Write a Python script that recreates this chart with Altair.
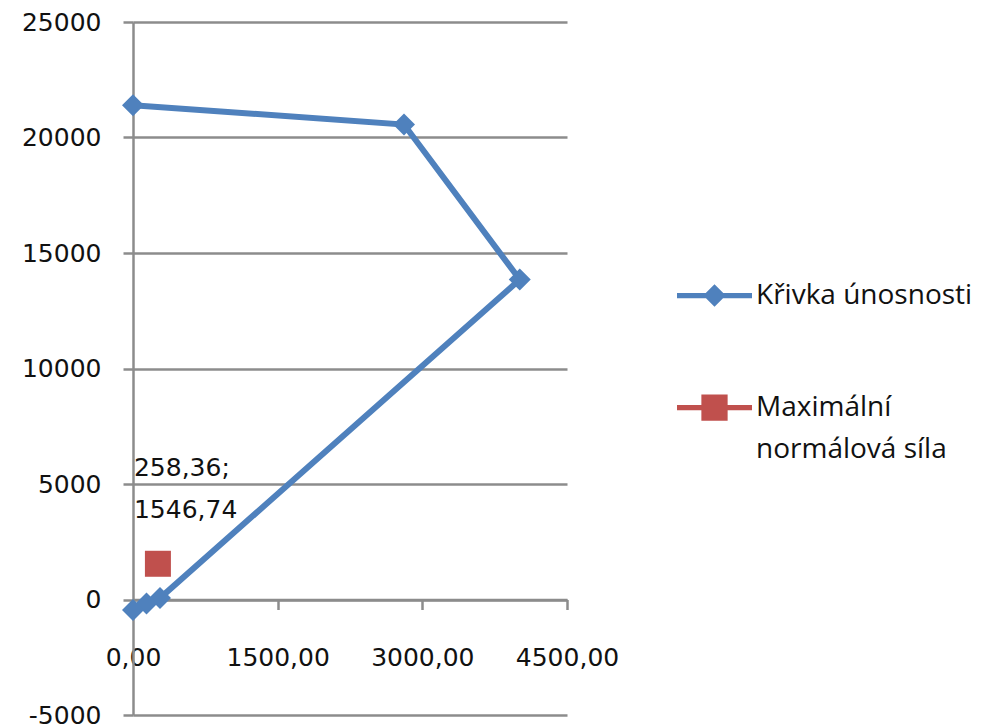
import altair as alt
import pandas as pd

# Interaction curve (moment M on x, axial force N on y)
curve_m = [0, 2810, 4010, 280, 140, 0]
curve_n = [21400, 20560, 13850, 60, -170, -450]

# Design load point
load_m = [258.36]
load_n = [1546.74]

SERIES = ["Křivka únosnosti", "Maximální\nnormálová síla"]
COLORS = ["#4F81BD", "#C0504D"]

X_TICKS = [0, 1500, 3000, 4500]
Y_TICKS = [-5000, 0, 5000, 10000, 15000, 20000, 25000]

TOTAL_W, TOTAL_H = 991, 728
LEFT, TOP = 133, 22
W, H = 434, 693
GRID = "#8C8C8C"
NUM_FONT = "DejaVu Sans"
LEG_FONT = "Open Sans"

curve = pd.DataFrame({"m": curve_m, "n": curve_n, "series": SERIES[0], "order": range(len(curve_m))})
load = pd.DataFrame({"m": load_m, "n": load_n, "series": SERIES[1]})

x_scale = alt.Scale(domain=[X_TICKS[0], X_TICKS[-1]], nice=False, zero=False)
y_scale = alt.Scale(domain=[Y_TICKS[0], Y_TICKS[-1]], nice=False, zero=False)

# x axis sits on the N = 0 line
x_offset = -H * (0 - Y_TICKS[0]) / (Y_TICKS[-1] - Y_TICKS[0])

x_axis = alt.Axis(
    values=X_TICKS, title=None, grid=False, orient="bottom", offset=x_offset,
    labelExpr="replace(format(datum.value, '.2f'), '.', ',')",
    labelFont=NUM_FONT, labelFontSize=25, labelColor="#111111", labelPadding=36,
    domainColor=GRID, domainWidth=2.5, tickColor=GRID, tickWidth=2.5, tickSize=10,
    labelFlush=False, labelOverlap=False,
)
y_axis = alt.Axis(
    values=Y_TICKS, title=None,
    labelExpr="'' + datum.value",
    labelFont=NUM_FONT, labelFontSize=25, labelColor="#111111", labelPadding=22,
    domainColor=GRID, domainWidth=2.5, tickColor=GRID, tickWidth=2.5, tickSize=10,
    gridColor=GRID, gridWidth=2.5,
)

x_enc = alt.X("m:Q", scale=x_scale, axis=x_axis)
y_enc = alt.Y("n:Q", scale=y_scale, axis=y_axis)
x_plain = alt.X("m:Q", scale=x_scale)
y_plain = alt.Y("n:Q", scale=y_scale)

# Legend glyphs: a line segment with the series marker on it
blue_glyph = ("M-1,-0.07L1,-0.07L1,0.07L-1,0.07Z "
              "M0,-0.3L0.3,0L0,0.3L-0.3,0Z")
red_glyph = ("M-1,-0.07L1,-0.07L1,0.07L-1,0.07Z "
             "M-0.35,-0.35L0.35,-0.35L0.35,0.35L-0.35,0.35Z")

color_scale = alt.Scale(domain=SERIES, range=COLORS)
shape_scale = alt.Scale(domain=SERIES, range=[blue_glyph, red_glyph])

curve_line = alt.Chart(curve).mark_line(strokeWidth=6, color=COLORS[0]).encode(
    x=x_enc, y=y_enc, order="order:Q"
)
curve_pts = alt.Chart(curve).mark_point(
    shape="diamond", filled=True, size=484, opacity=1, color=COLORS[0]
).encode(x=x_plain, y=y_plain)

load_pt = alt.Chart(load).mark_point(
    shape="square", filled=True, size=676, opacity=1, color=COLORS[1]
).encode(x=x_plain, y=y_plain)

load_label = alt.Chart(load).transform_calculate(
    txt="[replace(format(datum.m, '.2f'), '.', ',') + ';', replace(format(datum.n, '.2f'), '.', ',')]"
).mark_text(
    align="left", baseline="top", dx=-24, dy=-108, lineHeight=42,
    font=NUM_FONT, fontSize=25, color="#111111"
).encode(x=x_plain, y=y_plain, text="txt:N")

legend = alt.Legend(
    title=None, orient="none", legendX=544, legendY=236, padding=0,
    symbolSize=5625, symbolStrokeWidth=0, symbolOpacity=1,
    labelFont=LEG_FONT, labelFontSize=28, labelColor="#111111", labelOffset=4,
    labelLimit=400, rowPadding=60, labelBaseline="middle",
    labelExpr="indexof(datum.label, '\\n') >= 0 ? split(datum.label, '\\n') : datum.label",
)

all_pts = pd.concat([curve[["m", "n", "series"]], load], ignore_index=True)
legend_layer = alt.Chart(all_pts).transform_filter("false").mark_point(
    filled=True, size=5625
).encode(
    x=x_plain, y=y_plain,
    color=alt.Color("series:N", scale=color_scale, legend=legend),
    shape=alt.Shape("series:N", scale=shape_scale, legend=legend),
)

chart = alt.layer(
    legend_layer, curve_line, curve_pts, load_pt, load_label
).properties(
    width=W, height=H,
    padding={"left": LEFT, "top": TOP, "right": TOTAL_W - LEFT - W, "bottom": TOTAL_H - TOP - H},
    autosize=alt.AutoSizeParams(type="none"),
    background="white",
).configure(
    style={"guide-label": {"lineHeight": 42}}
).configure_view(
    strokeWidth=0
)

chart.save("out.html", embed_options={"renderer": "svg", "actions": False})
